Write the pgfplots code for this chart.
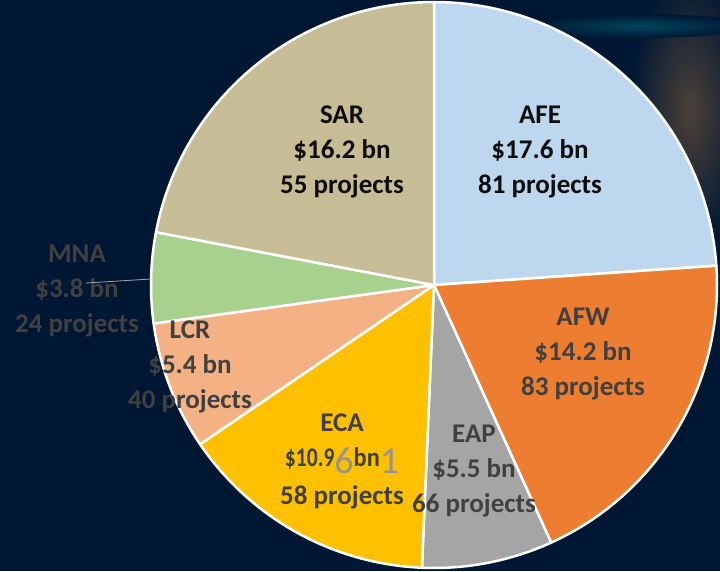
\documentclass[border=0pt]{standalone}
\usepackage{pgfplots}
\pgfplotsset{compat=1.18}
\usepackage{fontspec}
\setmainfont{Carlito}
\usepackage{graphicx}
\definecolor{bgnavy}{HTML}{001733}
\definecolor{cAFE}{HTML}{BDD7EE}
\definecolor{cAFW}{HTML}{ED7D31}
\definecolor{cEAP}{HTML}{A5A5A5}
\definecolor{cECA}{HTML}{FFC000}
\definecolor{cLCR}{HTML}{F4B183}
\definecolor{cMNA}{HTML}{A9D18E}
\definecolor{cSAR}{HTML}{C6BC96}
\definecolor{tdark}{HTML}{404040}
\definecolor{tblack}{HTML}{0D0D0D}
% values ($ bn) per region
\def\vAFE{17.6}\def\vAFW{14.2}\def\vEAP{5.5}\def\vECA{10.9}
\def\vLCR{5.4}\def\vMNA{3.8}\def\vSAR{16.2}
\pgfmathsetmacro\tot{\vAFE+\vAFW+\vEAP+\vECA+\vLCR+\vMNA+\vSAR}
\pgfmathsetmacro\aA{90}
\pgfmathsetmacro\aB{\aA-360*\vAFE/\tot}
\pgfmathsetmacro\aC{\aB-360*\vAFW/\tot}
\pgfmathsetmacro\aD{\aC-360*\vEAP/\tot}
\pgfmathsetmacro\aE{\aD-360*\vECA/\tot}
\pgfmathsetmacro\aF{\aE-360*\vLCR/\tot}
\pgfmathsetmacro\aG{\aF-360*\vMNA/\tot}
\pgfmathsetmacro\aH{\aG-360*\vSAR/\tot}
\def\R{283}
\tikzset{lab/.style={align=center,font=\fontsize{27}{35}\selectfont\bfseries}}
\newcommand\bigd[1]{\smash{\raisebox{-7pt}{\fontsize{38}{38}\selectfont\mdseries\color{gray!85}#1}}}
\begin{document}
\begin{tikzpicture}
\fill[bgnavy] (0,0) rectangle (720pt,571pt);
\begin{scope}
\clip (0,0) rectangle (720pt,571pt);
\shade[inner color=brown!40!bgnavy, outer color=bgnavy] (690pt,460pt) ellipse (60pt and 140pt);
\shade[inner color=cyan!20!bgnavy, outer color=bgnavy] (640pt,545pt) ellipse (110pt and 12pt);
\end{scope}
\begin{axis}[at={(0,0)},anchor=south west,
  width=720pt,height=571pt,scale only axis,
  xmin=-434,xmax=286,ymin=-286,ymax=285,
  hide axis,clip=false]
\addplot[fill=cAFE,draw=white,line width=2.5pt,line join=round,domain=\aB:\aA,samples=90]
  ({\R*cos(x)},{\R*sin(x)}) -- (axis cs:0,0) -- cycle;
\addplot[fill=cAFW,draw=white,line width=2.5pt,line join=round,domain=\aC:\aB,samples=90]
  ({\R*cos(x)},{\R*sin(x)}) -- (axis cs:0,0) -- cycle;
\addplot[fill=cEAP,draw=white,line width=2.5pt,line join=round,domain=\aD:\aC,samples=40]
  ({\R*cos(x)},{\R*sin(x)}) -- (axis cs:0,0) -- cycle;
\addplot[fill=cECA,draw=white,line width=2.5pt,line join=round,domain=\aE:\aD,samples=60]
  ({\R*cos(x)},{\R*sin(x)}) -- (axis cs:0,0) -- cycle;
\addplot[fill=cLCR,draw=white,line width=2.5pt,line join=round,domain=\aF:\aE,samples=40]
  ({\R*cos(x)},{\R*sin(x)}) -- (axis cs:0,0) -- cycle;
\addplot[fill=cMNA,draw=white,line width=2.5pt,line join=round,domain=\aG:\aF,samples=40]
  ({\R*cos(x)},{\R*sin(x)}) -- (axis cs:0,0) -- cycle;
\addplot[fill=cSAR,draw=white,line width=2.5pt,line join=round,domain=\aH:\aG,samples=90]
  ({\R*cos(x)},{\R*sin(x)}) -- (axis cs:0,0) -- cycle;
\node[lab,text=tblack] at (axis cs:-92,133) {SAR\\\$16.2 bn\\55 projects};
\node[lab,text=tblack] at (axis cs:106,133) {AFE\\\$17.6 bn\\81 projects};
\node[lab,text=tdark] at (axis cs:149,-69) {AFW\\\$14.2 bn\\83 projects};
\node[lab,text=tdark] at (axis cs:40,-186) {EAP\\\$5.5 bn\\66 projects};
\node[lab,text=tdark] at (axis cs:-92,-176) {ECA\\\scalebox{0.8}[1]{\$10.9}\bigd{6}\scalebox{0.9}[1]{bn}\bigd{1}\\[3pt]58 projects};
\node[lab,text=tdark] at (axis cs:-244,-82) {LCR\\\$5.4 bn\\40 projects};
\node[lab,text=tdark] at (axis cs:-357,-6) {MNA\\\$3.8 bn\\24 projects};
\draw[gray!70,line width=0.8pt] (axis cs:-348,2) -- (axis cs:-283,6);
\end{axis}
\end{tikzpicture}
\end{document}
